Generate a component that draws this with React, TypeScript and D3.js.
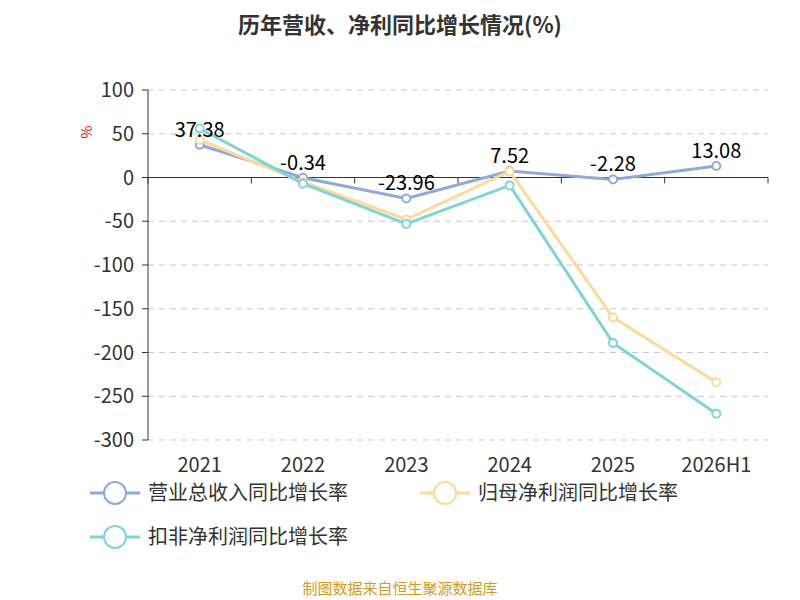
import React from "react";
import * as d3 from "d3";

const categories = ["2021", "2022", "2023", "2024", "2025", "2026H1"];
const revenueGrowth = [37.38, -0.34, -23.96, 7.52, -2.28, 13.08];
const parentProfitGrowth = [43, -5, -48, 7, -160, -234];
const deductedProfitGrowth = [56, -7, -53, -9, -189, -270];
const yTicks = [100, 50, 0, -50, -100, -150, -200, -250, -300];

const series = [
  { name: "营业总收入同比增长率", color: "#8fa9da", values: revenueGrowth, labels: true },
  { name: "归母净利润同比增长率", color: "#fdd99b", values: parentProfitGrowth, labels: false },
  { name: "扣非净利润同比增长率", color: "#80d4d6", values: deductedProfitGrowth, labels: false },
];

const font = "'Noto Sans CJK SC', 'Noto Sans', sans-serif";

export default function App() {
  const left = 148, right = 768, top = 90, bottom = 440;
  const x = d3.scaleBand().domain(categories).range([left, right]).padding(0);
  const y = d3.scaleLinear().domain([-300, 100]).range([bottom, top]);
  const cx = (c: string) => (x(c) || 0) + x.bandwidth() / 2;
  const line = d3.line<number>().x((_, i) => cx(categories[i])).y((d) => y(d));
  const legendPos = [
    { x: 90, y: 493 },
    { x: 420, y: 493 },
    { x: 90, y: 537 },
  ];

  return (
    <svg width={800} height={600} style={{ position: "absolute", left: 0, top: 0, fontFamily: font }}>
      <rect width={800} height={600} fill="#fff" />
      <text x={400} y={33} textAnchor="middle" fontSize={22} fontWeight="bold" fill="#333">
        历年营收、净利同比增长情况(%)
      </text>
      <text x={0} y={0} transform="translate(92,132) rotate(-90)" textAnchor="middle" fontSize={14} fill="#e00">%</text>
      {yTicks.map((t) => (
        <g key={t}>
          {t !== 0 && (
            <line x1={left} x2={right} y1={y(t)} y2={y(t)} stroke="#c8c8c8" strokeDasharray="6,5" />
          )}
          <line x1={left - 6} x2={left} y1={y(t)} y2={y(t)} stroke="#333" />
          <text x={left - 14} y={y(t)} dy="0.35em" textAnchor="end" fontSize={20} fill="#333">{t}</text>
        </g>
      ))}
      <line x1={left} x2={left} y1={top} y2={bottom} stroke="#333" />
      <line x1={left} x2={right} y1={y(0)} y2={y(0)} stroke="#333" />
      {d3.range(categories.length + 1).map((i) => {
        const xx = left + i * x.bandwidth();
        return <line key={i} x1={xx} x2={xx} y1={y(0)} y2={y(0) + 6} stroke="#333" />;
      })}
      {categories.map((c) => (
        <text key={c} x={cx(c)} y={472} textAnchor="middle" fontSize={20} fill="#333">{c}</text>
      ))}
      {series.map((s) => (
        <g key={s.name}>
          <path d={line(s.values) || ""} fill="none" stroke={s.color} strokeWidth={3} />
          {s.values.map((v, i) => (
            <circle key={i} cx={cx(categories[i])} cy={y(v)} r={4} fill="#fff" stroke={s.color} strokeWidth={2} />
          ))}
        </g>
      ))}
      {series.filter((s) => s.labels).map((s) =>
        s.values.map((v, i) => (
          <text key={i} x={cx(categories[i])} y={y(v) - 8} textAnchor="middle" fontSize={20} fill="#000">
            {v.toFixed(2)}
          </text>
        ))
      )}
      {series.map((s, i) => (
        <g key={s.name} transform={`translate(${legendPos[i].x},${legendPos[i].y})`}>
          <line x1={0} x2={50} y1={0} y2={0} stroke={s.color} strokeWidth={3} />
          <circle cx={25} cy={0} r={11} fill="#fff" stroke={s.color} strokeWidth={2} />
          <text x={58} y={0} dy="0.35em" fontSize={20} fill="#333">{s.name}</text>
        </g>
      ))}
      <text x={400} y={594} textAnchor="middle" fontSize={15} fill="#d49a1a">制图数据来自恒生聚源数据库</text>
    </svg>
  );
}
